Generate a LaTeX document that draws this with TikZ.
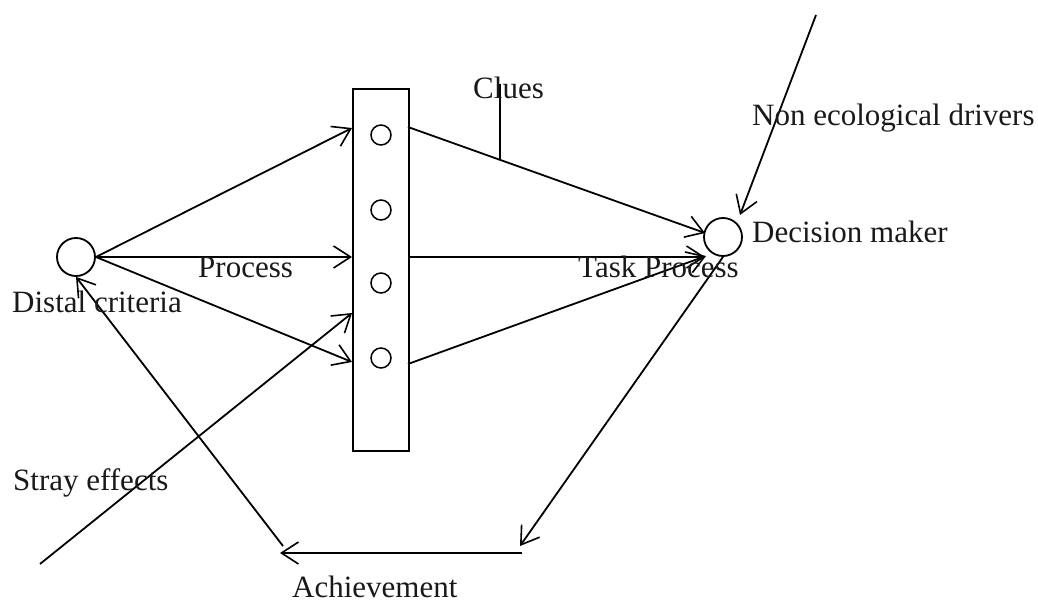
\documentclass[tikz,border=0pt]{standalone}
\usepackage{fontspec}
\setmainfont{Liberation Serif}
\usetikzlibrary{arrows.meta}
\begin{document}
\begin{tikzpicture}[x=1pt,y=-1pt,
  link/.style={line width=1.8pt, -{Straight Barb[length=17pt,width=22pt,line width=1.6pt]}},
  plain/.style={line width=1.8pt},
  lbl/.style={font=\fontsize{31}{37}\selectfont, anchor=base west, inner sep=0pt, text=black!90},
  actor/.style={circle, draw, line width=1.8pt, minimum size=38pt, inner sep=0pt},
  cue/.style={circle, draw, line width=1.5pt, minimum size=20pt, inner sep=0pt}]
\useasboundingbox (0,0) rectangle (1038,604);

% lens of cues
\node[draw, line width=1.8pt, minimum width=56pt, minimum height=362pt,
      inner sep=0pt, anchor=north west] (box) at (352,88) {};
\node[cue] (c1) at (381,135) {};
\node[cue] (c2) at (381,210) {};
\node[cue] (c3) at (381,283) {};
\node[cue] (c4) at (381,358) {};

% the two actors
\node[actor] (dc) at (76,257) {};
\node[actor] (dm) at (723,237) {};

% entry and exit points on the lens
\coordinate (inA) at (352,128);
\coordinate (inB) at (352,257);
\coordinate (inS) at (352,313);
\coordinate (inC) at (352,362);
\coordinate (outA) at (408,127);
\coordinate (outB) at (408,257);
\coordinate (outC) at (408,364);
\coordinate (dmA) at (705,233);
\coordinate (dmB) at (705,257);
\coordinate (dmC) at (706,256);

% free ends
\coordinate (sfoot) at (40,564);
\coordinate (ntop) at (816,15);
\coordinate (ntip) at (740,215);
\coordinate (atip) at (520,546);
\coordinate (aR) at (522,553);
\coordinate (aL) at (280,553);
\coordinate (aTop) at (283,546);
\coordinate (clueTop) at (500,84);
\coordinate (clueFoot) at (500,159);

% distal side
\draw[link] (dc.east) -- (inA);
\draw[link] (dc.east) -- (inB);
\draw[link] (dc.east) -- (inC);
\draw[link] (sfoot) -- (inS);

% proximal side
\draw[link] (outA) -- (dmA);
\draw[link] (outB) -- (dmB);
\draw[link] (outC) -- (dmC);
\draw[plain] (clueTop) -- (clueFoot);
\draw[link] (ntop) -- (ntip);

% achievement loop
\draw[link] (dm.south) -- (atip);
\draw[link] (aR) -- (aL);
\draw[link] (aTop) -- (dc.south);

% labels
\node[lbl] (tClues) at (473,99) {Clues};
\node[lbl] (tProc) at (198,277) {Process};
\node[lbl] (tDistal) at (12,312) {Distal criteria};
\node[lbl] (tTask) at (578,277) {Task Process};
\node[lbl] (tDm) at (752,242) {Decision maker};
\node[lbl] (tNon) at (752,126) {Non ecological drivers};
\node[lbl] (tStray) at (13,490) {Stray effects};
\node[lbl] (tAch) at (292,597) {Achievement};
\end{tikzpicture}
\end{document}
